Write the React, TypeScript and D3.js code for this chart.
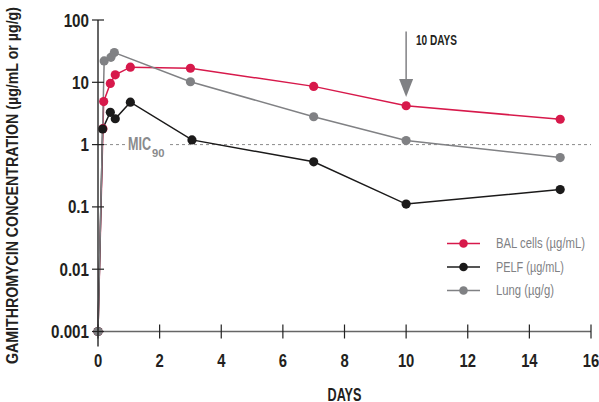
import React from "react";
import * as d3 from "d3";

const W = 599;
const H = 402;

const xTicks = [0, 2, 4, 6, 8, 10, 12, 14, 16];
const yTicks = [0.001, 0.01, 0.1, 1, 10, 100];
const yTickLabels = ["0.001", "0.01", "0.1", "1", "10", "100"];

const balTimes = [0, 0.16, 0.185, 0.4, 0.56, 1.05, 3, 7, 10, 15];
const balValues = [0.001, 1.8, 4.9, 9.6, 13.2, 17.5, 16.8, 8.6, 4.2, 2.55];

const pelfTimes = [0, 0.15, 0.4, 0.56, 1.05, 3.05, 7, 10, 15];
const pelfValues = [0.001, 1.78, 3.3, 2.6, 4.8, 1.19, 0.53, 0.111, 0.19];

const lungTimes = [0, 0.2, 0.42, 0.53, 3, 7, 10, 15];
const lungValues = [0.001, 22, 25.2, 30, 10.2, 2.8, 1.16, 0.62];

const seriesNames = ["BAL cells (µg/mL)", "PELF (µg/mL)", "Lung (µg/g)"];
const seriesColors = ["#d7194b", "#1b1a1a", "#808184"];
const legendWidths = [89, 68, 58];

const micValue = 1;
const annotationDay = 10;

const FONT = "'Liberation Sans', Arial, sans-serif";

// condensed text: horizontally scaled around its anchor point
function CText(props: {
  x: number;
  y: number;
  sx: number;
  anchor?: "start" | "middle" | "end";
  size: number;
  weight?: number;
  fill: string;
  children: React.ReactNode;
}) {
  const { x, y, sx, anchor = "start", size, weight = 700, fill, children } = props;
  return (
    <text
      transform={`translate(${x},${y}) scale(${sx},1)`}
      textAnchor={anchor}
      fontSize={size}
      fontWeight={weight}
      fill={fill}
    >
      {children}
    </text>
  );
}

export default function App() {
  const x = d3.scaleLinear().domain([0, 16]).range([98, 591]);
  const y = d3.scaleLog().domain([0.001, 100]).range([331.5, 20]);

  const series = [
    { times: balTimes, values: balValues },
    { times: pelfTimes, values: pelfValues },
    { times: lungTimes, values: lungValues },
  ];

  const line = d3
    .line<[number, number]>()
    .x((d) => x(d[0]))
    .y((d) => y(d[1]));

  const drawOrder = [0, 1, 2];

  const legendX = 447;
  const legendY = [243.5, 267, 290.5];

  const micY = y(micValue);
  const arrowX = x(annotationDay);

  return (
    <svg
      width={W}
      height={H}
      style={{ position: "absolute", left: 0, top: 0, background: "#fff" }}
      fontFamily={FONT}
    >
      {/* MIC dotted line */}
      <line x1={x(0)} x2={591} y1={micY} y2={micY} stroke="#8a8a8a" strokeWidth={1} strokeDasharray="3,3" />
      <rect x={125} y={micY - 10} width={43} height={22} fill="#fff" />
      <text x={128} y={micY + 5.5} fill="#8a8b8d" fontSize={19} fontWeight={700} textLength={23} lengthAdjust="spacingAndGlyphs">
        MIC
      </text>
      <text x={152} y={micY + 12} fill="#8a8b8d" fontSize={11} fontWeight={700} textLength={12.5} lengthAdjust="spacingAndGlyphs">
        90
      </text>

      {/* series */}
      {drawOrder.map((i) => {
        const s = series[i];
        const pts = s.times.map((t, j) => [t, s.values[j]] as [number, number]);
        return <path key={i} d={line(pts) || ""} fill="none" stroke={seriesColors[i]} strokeWidth={1.5} />;
      })}
      {drawOrder.map((i) => {
        const s = series[i];
        return (
          <g key={"c" + i}>
            {s.times.map((t, j) => (
              <circle key={j} cx={x(t)} cy={y(s.values[j])} r={4.6} fill={seriesColors[i]} />
            ))}
          </g>
        );
      })}

      {/* x axis */}
      <line x1={x(0)} x2={x(16)} y1={y(0.001)} y2={y(0.001)} stroke="#666" strokeWidth={1.5} />
      {xTicks.map((t) => (
        <g key={t}>
          <line x1={x(t)} x2={x(t)} y1={y(0.001) - 7} y2={y(0.001) + 7} stroke="#222" strokeWidth={1.2} />
          <CText x={x(t)} y={367} sx={0.78} anchor="middle" size={19} fill="#231f20">
            {t}
          </CText>
        </g>
      ))}
      <text
        x={(x(0) + x(16)) / 2 - 17}
        y={400.5}
        fontSize={19}
        fontWeight={700}
        fill="#231f20"
        textLength={34}
        lengthAdjust="spacingAndGlyphs"
      >
        DAYS
      </text>

      {/* y axis */}
      <line x1={x(0)} x2={x(0)} y1={y(100)} y2={y(0.001) + 15} stroke="#333" strokeWidth={1.5} />
      {yTicks.map((v, i) => (
        <g key={v}>
          <line x1={x(0) - 6} x2={x(0) + 6} y1={y(v)} y2={y(v)} stroke="#222" strokeWidth={1.2} />
          <CText x={89} y={y(v) + 6.5} sx={0.8} anchor="end" size={19} fill="#231f20">
            {yTickLabels[i]}
          </CText>
        </g>
      ))}
      <text
        transform={`translate(17.5, 364) rotate(-90)`}
        fontSize={16}
        fontWeight={700}
        fill="#231f20"
        textLength={357}
        lengthAdjust="spacingAndGlyphs"
      >
        GAMITHROMYCIN CONCENTRATION (µg/mL or µg/g)
      </text>

      {/* annotation arrow */}
      <line x1={arrowX} x2={arrowX} y1={31.5} y2={80} stroke="#808184" strokeWidth={1.5} />
      <path d={`M${arrowX - 7},79 L${arrowX + 7},79 L${arrowX},97 Z`} fill="#808184" />
      <text x={416} y={44.5} fontSize={14} fontWeight={700} fill="#231f20" textLength={41} lengthAdjust="spacingAndGlyphs">
        10 DAYS
      </text>

      {/* legend */}
      {seriesNames.map((name, i) => (
        <g key={name}>
          <line
            x1={legendX}
            x2={legendX + 33}
            y1={legendY[i]}
            y2={legendY[i]}
            stroke={i === 1 ? "#555" : seriesColors[i]}
            strokeWidth={i === 1 ? 2 : 1.3}
          />
          <circle cx={legendX + 16.5} cy={legendY[i]} r={4.3} fill={seriesColors[i]} />
          <text
            x={496}
            y={legendY[i] + 4.5}
            fontSize={14}
            fill="#808184"
            textLength={legendWidths[i]}
            lengthAdjust="spacingAndGlyphs"
          >
            {name}
          </text>
        </g>
      ))}
    </svg>
  );
}
